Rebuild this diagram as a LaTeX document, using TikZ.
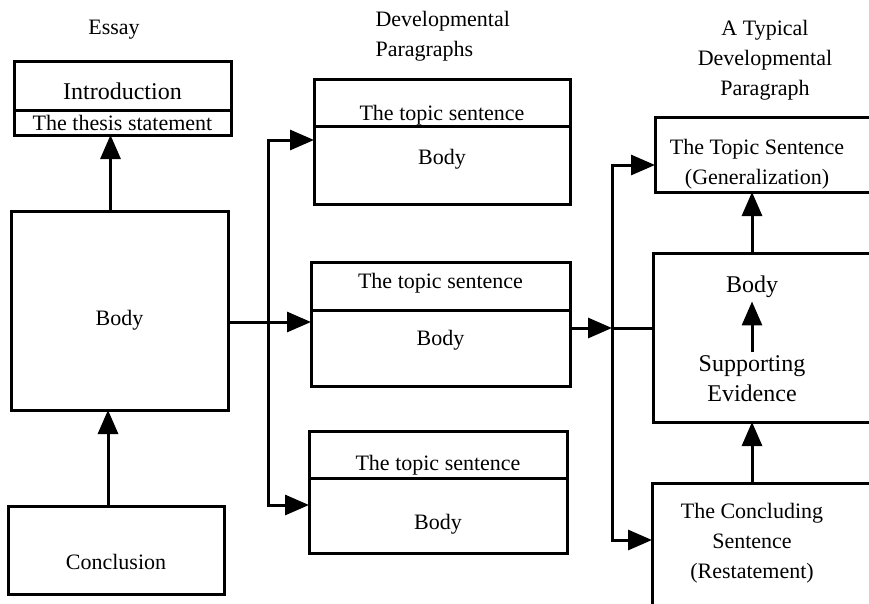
\documentclass[tikz,border=0pt]{standalone}
\usepackage{fontspec}
\setmainfont{Liberation Serif}
\usetikzlibrary{arrows.meta,positioning}

\begin{document}
\begin{tikzpicture}[x=1pt,y=-1pt,
  font=\fontsize{22}{30}\selectfont,
  box/.style={draw,line width=3pt,inner sep=1pt,outer sep=0pt,align=center},
  drop/.style={text height=#1,text depth=4.5pt},
  lift/.style={text height=15pt,text depth=#1},
  conn/.style={line width=3pt},
  arr/.style={line width=3pt,-{Triangle[length=24pt,width=20pt]}}]
\useasboundingbox (0,0) rectangle (869,603);
\clip (0,0) rectangle (869,603);

% essay
\node (essay) at (114,30) {Essay};
\node[box,minimum width=217pt,minimum height=49pt,drop=32pt,font=\fontsize{24}{30}\selectfont] (intro) at (122.5,85.5) {Introduction};
\node[box,minimum width=217pt,minimum height=25pt,below=0pt of intro] (thesis) {The thesis statement};
\node[box,minimum width=217pt,minimum height=199pt,drop=35pt] (ebody) at (119.5,310.5) {Body};
\node[box,minimum width=216pt,minimum height=88pt,drop=43pt] (concl) at (116,550) {Conclusion};

% developmental paragraphs
\node[align=left,anchor=west] (devp) at (372,36) {Developmental\\Paragraphs};
\node[box,minimum width=256pt,minimum height=47pt,drop=40pt] (ttop) at (442,102.5) {The topic sentence};
\node[box,minimum width=256pt,minimum height=78pt,lift=16.5pt,below=0pt of ttop] (tbody) {Body};
\node[box,minimum width=259pt,minimum height=48pt,lift=10.5pt] (mtop) at (440.5,286) {The topic sentence};
\node[box,minimum width=259pt,minimum height=76pt,lift=20.5pt,below=0pt of mtop] (mbody) {Body};
\node[box,minimum width=258pt,minimum height=47pt,drop=37pt] (btop) at (438,454.5) {The topic sentence};
\node[box,minimum width=258pt,minimum height=75pt,drop=33pt,below=0pt of btop] (bbody) {Body};

% typical paragraph
\node[align=center] (typ) at (765,60) {A Typical\\Developmental\\Paragraph};
\node[box,minimum width=240pt,minimum height=75pt,anchor=west] (rts) at (655,154.5) {};
\node[box,minimum width=240pt,minimum height=169pt,anchor=west] (rbody) at (653,337.5) {};
\node[box,minimum width=240pt,minimum height=135pt,anchor=north west] (rcon) at (652,483) {};
\node[align=center] (tstxt) at (757,164) {The Topic Sentence\\(Generalization)};
\node[font=\fontsize{24}{30}\selectfont] (bodytxt) at (752,287) {Body};
\node[align=center,font=\fontsize{24}{30}\selectfont] (suptxt) at (752,379) {Supporting\\Evidence};
\node[align=center] (contxt) at (752,543) {The Concluding\\Sentence\\(Restatement)};

\coordinate (lj) at (268,322);
\coordinate (ltop) at (268,140);
\coordinate (lbot) at (268,505);
\coordinate (rj) at (612,328);
\coordinate (rtop) at (612,165);
\coordinate (rbot) at (612,540);

% connectors
\draw[arr] ([xshift=-9pt]ebody.north) -- ([xshift=-9pt]ebody.north |- thesis.south);
\draw[arr] ([xshift=-8pt]concl.north) -- ([xshift=-8pt]concl.north |- ebody.south);
\draw[arr] (ebody.east |- lj) -- (mbody.west |- lj);
\draw[arr] (lj) |- (ltop -| tbody.west);
\draw[arr] (lj) |- (lbot -| bbody.west);
\draw[arr] (mbody.east |- rj) -- (rj);
\draw[conn] (rj) -- (rbody.west |- rj);
\draw[arr] (rj) |- (rtop -| rts.west);
\draw[arr] (rj) |- (rbot -| rcon.west);
\draw[arr] (rbody.north -| bodytxt) -- (rts.south -| bodytxt);
\draw[arr] (suptxt.north) -- (bodytxt.south);
\draw[arr] (rcon.north -| bodytxt) -- (rbody.south -| bodytxt);
\end{tikzpicture}
\end{document}
